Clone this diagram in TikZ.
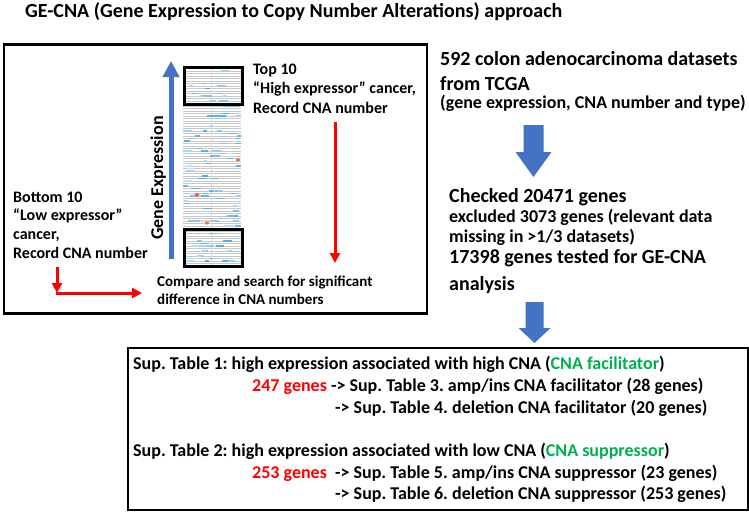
\documentclass[tikz,border=0pt]{standalone}
\usepackage{fontspec}
\setmainfont{Carlito}
\frenchspacing
\usetikzlibrary{arrows.meta}
\definecolor{ofblue}{HTML}{4472C4}
\definecolor{hmblue}{HTML}{4FAAE4}
\definecolor{ggreen}{HTML}{00B050}
\definecolor{pred}{HTML}{FF0000}
\tikzset{
  f20/.style={font=\fontsize{20}{24}\selectfont\bfseries, inner sep=0pt, anchor=base west},
  f18/.style={font=\fontsize{18}{22}\selectfont\bfseries, inner sep=0pt, anchor=base west},
  f16/.style={font=\fontsize{16}{19}\selectfont\bfseries, inner sep=0pt, anchor=base west},
  f15/.style={font=\fontsize{15}{18}\selectfont\bfseries, inner sep=0pt, anchor=base west},
  redarrow/.style={draw=pred, line width=3, -{Triangle[width=10,length=10]}},
  frame/.style={draw, inner sep=0pt, anchor=north west},
  blockarrow/.style={fill=ofblue, draw=none}
}
\begin{document}
\begin{tikzpicture}[x=1pt,y=-1pt]
\useasboundingbox (0,0) rectangle (749,512);
\fill[white] (0,0) rectangle (749,512);

% title
\node[f20] (title) at (25,17) {GE-CNA (Gene Expression to Copy Number Alterations) approach};

% left panel
\node[frame, line width=2.5, minimum width=423, minimum height=269] (leftbox) at (2.5,43) {};

% heatmap
\begin{scope}
\clip (183,66) rectangle (241,265);
\fill[white] (183,66) rectangle (241,265);
\foreach \r in {0,...,79}{
  \draw[black!22, line width=0.5] (183,{66+\r*2.5}) -- (241,{66+\r*2.5});
}
\draw[black!15, line width=0.5] (211,66) -- (211,265);
\pgfmathsetseed{12}
\foreach \k in {1,...,130}{
  \pgfmathsetmacro\xx{180+58*rnd}
  \pgfmathsetmacro\yy{66+2.5*floor(80*rnd)}
  \pgfmathsetmacro\ll{3+7*rnd}
  \pgfmathtruncatemacro\cc{35+65*rnd}
  \draw[hmblue!\cc!white, line width=1.8] (\xx,\yy) -- ({\xx+\ll},\yy);
}
\fill[red!50!brown!80!white] (238,160) ellipse (2 and 1.5);
\fill[red!50!brown!80!white] (197,195) ellipse (2.5 and 1.8);
\fill[orange!60!red!80!white] (207,223) ellipse (2.2 and 1.5);
\end{scope}
\node[frame, line width=3, minimum width=58, minimum height=37] (topsel) at (183,66) {};
\node[frame, line width=3, minimum width=58, minimum height=37] (botsel) at (183,228) {};

% gene expression axis
\coordinate (gebot) at (171,259);
\coordinate (getop) at (171,61);
\draw[ofblue, line width=5, -{Triangle[width=16,length=16]}] (gebot) -- (getop);
\node[font=\fontsize{18}{20}\selectfont\bfseries, rotate=90, anchor=base, inner sep=0pt] (gelab) at (163,178) {Gene Expression};

% top text
\node[f16] (top1) at (253,74) {Top 10};
\node[f16] (top2) at (253,93.5) {“High expressor” cancer,};
\node[f16] (top3) at (253,113) {Record CNA number};
\coordinate (ra1) at (335,122);
\coordinate (ra2) at (335,263);
\draw[redarrow] (ra1) -- (ra2);

% bottom-left text
\node[f16] (bot1) at (13,202) {Bottom 10};
\node[f16] (bot2) at (13,220.5) {“Low expressor”};
\node[f16] (bot3) at (13,239) {cancer,};
\node[f16] (bot4) at (13,258) {Record CNA number};
\coordinate (la1) at (57,267);
\coordinate (la2) at (57,293);
\coordinate (la3) at (142,293);
\draw[redarrow] (la1) -- (la2);
\draw[redarrow] ([xshift=-1.5pt]la2) -- (la3);

% compare text
\node[f15] (cmp1) at (157,286) {Compare and search for significant};
\node[f15] (cmp2) at (157,304.5) {difference in CNA numbers};

% right column
\node[f20] (r1) at (440,65) {592 colon adenocarcinoma datasets};
\node[f20] (r2) at (440,90) {from TCGA};
\node[f18] (r3) at (440,108) {(gene expression, CNA number and type)};

\fill[blockarrow] (523.5,125) -- (543.5,125) -- (543.5,152) -- (551.5,152) -- (533.5,177) -- (515.5,152) -- (523.5,152) -- cycle;

\node[f20] (c1) at (449,202) {Checked 20471 genes};
\node[f18] (c2) at (449,222) {excluded 3073 genes (relevant data};
\node[f18] (c3) at (449,242) {missing in >1/3 datasets)};
\node[f20] (c4) at (449,263) {17398 genes tested for GE-CNA};
\node[f20] (c5) at (449,290) {analysis};

\fill[blockarrow] (525.5,302) -- (543.5,302) -- (543.5,328) -- (550.5,328) -- (534.5,343) -- (518.5,328) -- (525.5,328) -- cycle;

% bottom box
\node[frame, line width=2, minimum width=620, minimum height=162] (botbox) at (127,347) {};
\node[f18] (s1) at (133,369) {Sup. Table 1: high expression associated with high CNA (\textcolor{ggreen}{CNA facilitator})};
\node[f18] (s2) at (252,391) {\textcolor{pred}{247 genes} -> Sup. Table 3. amp/ins CNA facilitator (28 genes)};
\node[f18] (s3) at (335,413) {-> Sup. Table 4. deletion CNA facilitator (20 genes)};
\node[f18] (s4) at (133,456) {Sup. Table 2: high expression associated with low CNA (\textcolor{ggreen}{CNA suppressor})};
\node[f18] (s5) at (252,478) {\textcolor{pred}{253 genes}\ \ -> Sup. Table 5. amp/ins CNA suppressor (23 genes)};
\node[f18] (s6) at (335,499) {-> Sup. Table 6. deletion CNA suppressor (253 genes)};
\end{tikzpicture}
\end{document}
